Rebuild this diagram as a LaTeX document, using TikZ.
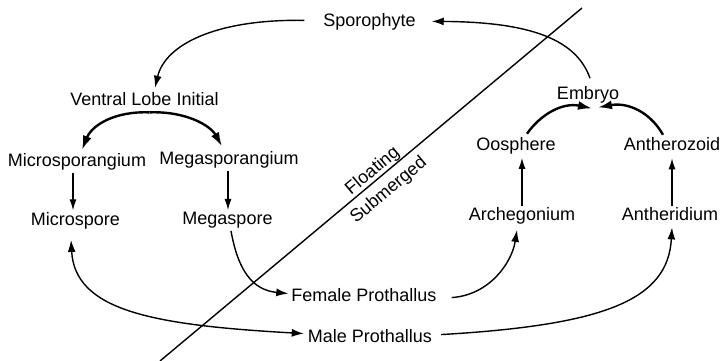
\documentclass[tikz,border=0pt]{standalone}
\usepackage{fontspec}
\setmainfont{Liberation Sans}
\usetikzlibrary{arrows.meta,calc}
\begin{document}
\begin{tikzpicture}[x=1pt,y=-1pt,
  lbl/.style={inner sep=0pt, anchor=base, font=\fontsize{18}{20}\selectfont},
  zone/.style={inner sep=0pt, anchor=center, sloped, font=\fontsize{18}{20}\selectfont},
  arr/.style={line width=1.4pt, -{Latex[length=12pt,width=8pt]}},
  darr/.style={line width=1.4pt, {Latex[length=12pt,width=8pt]}-{Latex[length=12pt,width=8pt]}},
  tarr/.style={line width=2.4pt, -{Latex[length=14pt,width=9pt]}},
  vline/.style={line width=1.1pt, -{Latex[length=11pt,width=7pt]}},
  divider/.style={line width=1.4pt}]
\useasboundingbox (0,0) rectangle (723,361);
% nodes
\node[lbl] (spo) at (369.5,27) {Sporophyte};
\node[lbl] (vli) at (144.5,105) {Ventral Lobe Initial};
\node[lbl] (micsg) at (77,166) {Microsporangium};
\node[lbl] (megsg) at (229,164.5) {Megasporangium};
\node[lbl] (micsp) at (75.5,225) {Microspore};
\node[lbl] (megsp) at (227.5,224) {Megaspore};
\node[lbl] (fem) at (364,301) {Female Prothallus};
\node[lbl] (male) at (370,342) {Male Prothallus};
\node[lbl] (arch) at (522,220) {Archegonium};
\node[lbl] (anth) at (670,220) {Antheridium};
\node[lbl] (oos) at (516,150) {Oosphere};
\node[lbl] (antz) at (672,150) {Antherozoid};
\node[lbl] (emb) at (588,99.5) {Embryo};
% divider
\coordinate (d1) at (582,8);
\coordinate (d2) at (160,361);
\draw[divider] (d1) -- (d2);
\path ($(d2)+(-5.8,-6.9)$) -- ($(d1)+(-5.8,-6.9)$) node[zone, pos=0.518] (flo) {Floating};
\path ($(d2)+(10.2,12.3)$) -- ($(d1)+(10.2,12.3)$) node[zone, pos=0.518] (sub) {Submerged};
% connectors
\draw[arr] ($(spo.west)+(-19,-2)$) .. controls (215,19) and (165,45) .. ($(vli.north)+(10.5,-4)$);
\draw[tarr] ($(vli.south)+(5,7)$) .. controls (115,111) and (92,125) .. ($(micsg.north)+(5,-3)$);
\draw[tarr] ($(vli.south)+(5,7)$) .. controls (185,111) and (210,125) .. ($(megsg.north)+(-7,-5)$);
\draw[vline] ($(micsg.south)+(-4,3)$) -- ($(micsp.north)+(-2.5,-1.5)$);
\draw[vline] ($(megsg.south)+(-1,3)$) -- ($(megsp.north)+(0.5,-1.5)$);
\draw[arr] ($(megsp.south)+(3.5,3)$) .. controls (238,270) and (252,290) .. ($(fem.west)+(-3,-1)$);
\draw[darr] ($(micsp.south)+(-4.5,11)$) .. controls (75,310) and (150,325) .. ($(male.west)+(-4,-2)$);
\draw[arr] ($(fem.east)+(15,3)$) .. controls (490,295) and (512,262) .. ($(arch.south)+(-5,6)$);
\draw[arr] ($(male.east)+(9,-1)$) .. controls (605,325) and (668,300) .. ($(anth.south)+(2,7)$);
\draw[vline] ($(arch.north)+(0,-1)$) -- ($(oos.south)+(6,4)$);
\draw[vline] ($(anth.north)+(2,-1)$) -- ($(antz.south)+(0,8)$);
\draw[tarr] ($(oos.north)+(11,-3)$) .. controls (540,115) and (562,102) .. ($(emb.south)+(4,5)$);
\draw[tarr] ($(antz.north)+(-9,-2)$) .. controls (650,112) and (628,102) .. ($(emb.south)+(10,4)$);
\draw[arr] ($(emb.north)+(2,-8)$) .. controls (575,35) and (520,22) .. ($(spo.east)+(16,-1)$);
\end{tikzpicture}
\end{document}
